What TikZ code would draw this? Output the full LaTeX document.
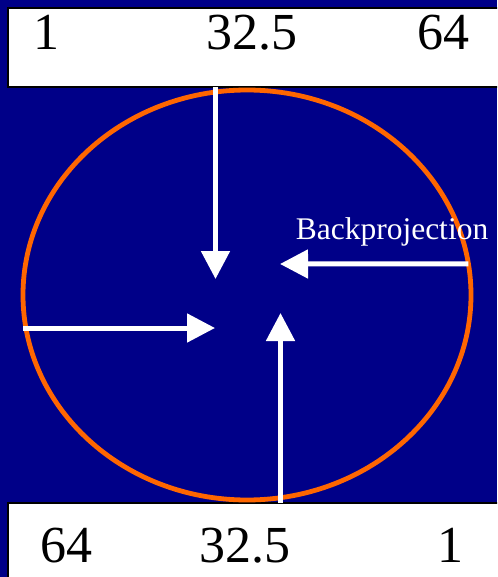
\documentclass[tikz,border=0pt]{standalone}
\usepackage{fontspec}
\setmainfont{Liberation Serif}
\usetikzlibrary{arrows.meta, shapes.geometric}
\definecolor{navy}{HTML}{000088}
\definecolor{rimorange}{HTML}{FF6600}
\tikzset{
  >={Triangle[length=28pt, width=28pt]},
  bar/.style={draw=black, line width=2pt, fill=white, anchor=north west,
              minimum width=520pt, inner sep=0pt, outer sep=0pt},
  tick/.style={font=\fontsize{52}{60}\selectfont, anchor=base, inner sep=0pt},
  rim/.style={draw=rimorange, line width=4.8pt, ellipse, minimum width=448pt,
              minimum height=410pt, inner sep=0pt, outer sep=0pt},
  ray/.style={->, white, line width=5pt},
  lbl/.style={text=white, font=\fontsize{31.5}{38}\selectfont, anchor=base, inner sep=0pt},
}

\begin{document}
\begin{tikzpicture}[x=1pt, y=-1pt]
  \clip (0,0) rectangle (497,577);
  \fill[navy] (0,0) rectangle (497,577);
  % detector rows
  \node[bar, minimum height=79pt] (topbar) at (8,8) {};
  \node[bar, minimum height=100pt] (botbar) at (8,503) {};
  \node[tick] (t1) at (46,50) {1};
  \node[tick] (t2) at (252,50) {32.5};
  \node[tick] (t3) at (443,50) {64};
  \node[tick] (b1) at (66,562) {64};
  \node[tick] (b2) at (245,562) {32.5};
  \node[tick] (b3) at (450,562) {1};
  % field of view
  \node[rim] (fov) at (247,295) {};
  % arrow tips
  \coordinate (tipn) at (215.5,279);
  \coordinate (tipe) at (280,264);
  \coordinate (tipw) at (215,328);
  \coordinate (tips) at (280.5,313);
  % rays
  \draw[ray] (topbar.south -| tipn) -- (tipn);
  \draw[ray] (fov.8) -- (tipe);
  \draw[ray] (fov.west |- tipw) -- (tipw);
  \draw[ray] (botbar.north -| tips) -- (tips);
  \node[lbl] (bp) at (392,239) {Backprojection};
\end{tikzpicture}
\end{document}
